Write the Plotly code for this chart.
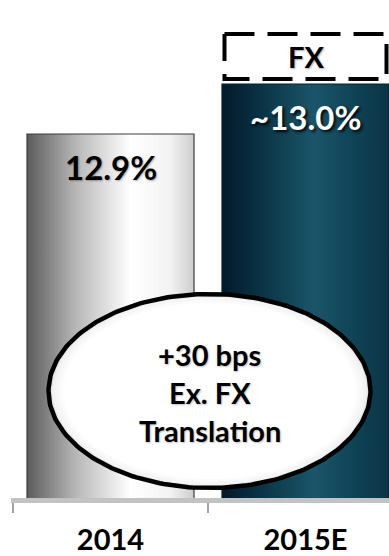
import numpy as np
import plotly.graph_objects as go

# ---- data ----
years = ["2014", "2015E"]
margin_pct = [12.9, 13.0]          # reported operating margin, %
fx_headwind = [0.0, 0.1]           # FX translation drag sitting on top of 2015E
estimate_prefix = ["", "~"]
callout_lines = ["+30 bps", "Ex. FX", "Translation"]

# ---- layout constants ----
W, H = 389, 556
ML, MB = 11, 58
PX_PER_X = 195.0                   # pixels per category
PX_PER_Y = 500.0                   # pixels per percentage point
Y_MIN = 12.172
Y_MAX = Y_MIN + (H - MB) / PX_PER_Y
X_MIN = -0.5 - 2 / PX_PER_X
X_MAX = X_MIN + (W - ML) / PX_PER_X
BAR_W = 167 / PX_PER_X
FONT = "Lato"

bar_fills = [
    [[0.0, "#5c5c5c"], [0.3, "#b9b9b9"], [0.62, "#ffffff"], [0.86, "#f2f2f2"], [1.0, "#cdcdcd"]],
    [[0.0, "#03192a"], [0.25, "#0b3547"], [0.55, "#1b5569"], [0.8, "#0f4255"], [1.0, "#0a3445"]],
]
bar_edges = ["#3c3c3c", "#06202c"]

fig = go.Figure()

# bars, drawn as filled rectangles so they can carry a horizontal gradient
for i, (yr, v) in enumerate(zip(years, margin_pct)):
    x0, x1 = i - BAR_W / 2, i + BAR_W / 2
    fig.add_trace(go.Scatter(
        x=[x0, x0, x1, x1, x0], y=[0, v, v, 0, 0],
        mode="lines", fill="toself",
        fillgradient=dict(type="horizontal", colorscale=bar_fills[i]),
        line=dict(color=bar_edges[i], width=1.2),
        hoverinfo="skip", showlegend=False, name=yr,
    ))

# dashed FX box stacked on the 2015E bar
gap = 5 / PX_PER_Y
inset = 2.5 / PX_PER_X
for i, (v, fx) in enumerate(zip(margin_pct, fx_headwind)):
    if fx <= 0:
        continue
    x0, x1 = i - BAR_W / 2 + inset, i + BAR_W / 2 - inset
    y0, y1 = v + gap, v + fx
    fig.add_trace(go.Scatter(
        x=[x0, x1, x1, x0, x0], y=[y1, y1, y0, y0, y1],
        mode="lines", fill="toself", fillcolor="white",
        line=dict(color="black", width=4, dash="30px,13px"),
        hoverinfo="skip", showlegend=False,
    ))
    fig.add_annotation(x=i, y=v + fx / 2 + gap / 2, text="FX", showarrow=False,
                       yanchor="middle",
                       font=dict(family=FONT, size=29, color="black", weight="bold",
                                 shadow="1px 1px 2px rgba(0,0,0,0.35)"))

# value labels inside the bars
label_colors = ["black", "white"]
label_shadows = ["1px 1px 2px rgba(0,0,0,0.3)", "2px 2px 3px rgba(0,0,0,0.9)"]
for i, v in enumerate(margin_pct):
    fig.add_annotation(x=i, y=v, text=f"{estimate_prefix[i]}{v:.1f}%", showarrow=False,
                       yanchor="middle", yshift=-33,
                       font=dict(family=FONT, size=33, color=label_colors[i], weight="bold",
                                 shadow=label_shadows[i]))

# callout ellipse with a soft inner shading
def px_to_x(px):
    return X_MIN + (px - ML) / PX_PER_X

def py_to_y(py):
    return Y_MIN + (H - MB - py) / PX_PER_Y

cx, cy = px_to_x(209.5), py_to_y(391)
rx, ry = 161 / PX_PER_X, 97 / PX_PER_Y
t = np.linspace(0, 2 * np.pi, 241)
fig.add_trace(go.Scatter(
    x=cx + rx * np.cos(t), y=cy + ry * np.sin(t),
    mode="lines", fill="toself",
    fillgradient=dict(type="radial",
                      colorscale=[[0.0, "#ffffff"], [0.9, "#ffffff"], [0.97, "#f2f2f2"], [1.0, "#d0d0d0"]]),
    line=dict(color="black", width=4.5),
    hoverinfo="skip", showlegend=False,
))

for k, line in enumerate(callout_lines):
    fig.add_annotation(x=cx, y=py_to_y(354 + 38 * k), text=line, showarrow=False,
                       yanchor="middle",
                       font=dict(family=FONT, size=29, color="black", weight="bold",
                                 shadow="1px 1px 2px rgba(0,0,0,0.25)"))

fig.update_layout(
    width=W, height=H,
    margin=dict(l=ML, r=0, t=0, b=MB),
    paper_bgcolor="white", plot_bgcolor="white",
    showlegend=False,
)
fig.update_xaxes(
    range=[X_MIN, X_MAX], showgrid=False, zeroline=False,
    tickvals=list(range(len(years))), ticktext=years, ticks="",
    tickfont=dict(family=FONT, size=29, color="black", weight="bold"),
    ticklabelstandoff=12,
    showline=True, linecolor="#c3c3c3", linewidth=5,
    minor=dict(tickvals=[-0.5, 0.5, 1.5], ticks="outside", ticklen=10,
               tickwidth=2, tickcolor="#a3a3a3", showgrid=False),
)
fig.update_yaxes(range=[Y_MIN, Y_MAX], visible=False, showgrid=False, zeroline=False)

fig.write_html("out.html")
